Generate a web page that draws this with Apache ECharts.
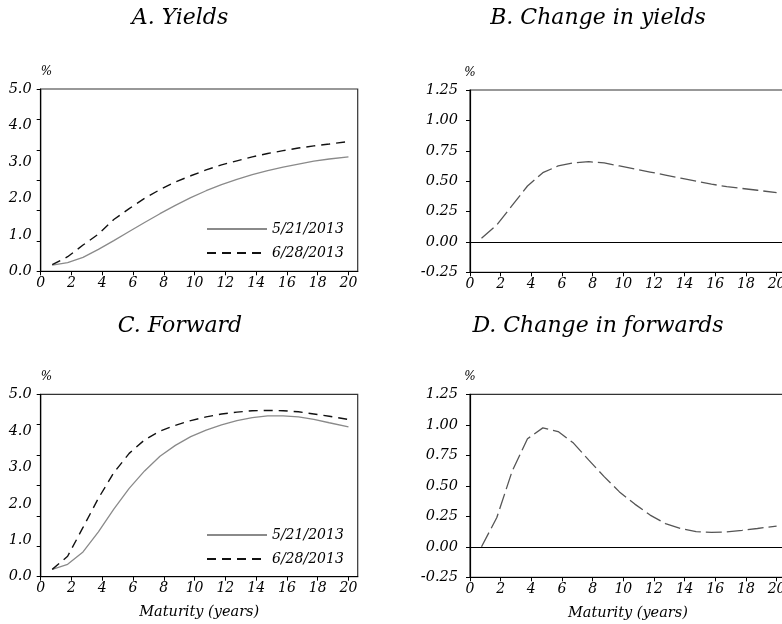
<!DOCTYPE html>
<html>
<head>
<meta charset="utf-8">
<script src="https://cdn.jsdelivr.net/npm/echarts@6/dist/echarts.min.js"></script>
<style>
  html, body { margin: 0; padding: 0; background: #fff; }
  #chart { width: 782px; height: 624px; }
</style>
</head>
<body>
<div id="chart"></div>
<script>
// Maturities (years) at which each curve is sampled
const maturities = [0.75, 1.75, 2.75, 3.75, 4.75, 5.75, 6.75, 7.75, 8.75, 9.75,
                    10.75, 11.75, 12.75, 13.75, 14.75, 15.75, 16.75, 17.75, 18.75, 20];

// A. Zero-coupon yields (%)
const yields0521 = [0.17, 0.24, 0.38, 0.60, 0.84, 1.09, 1.34, 1.58, 1.81, 2.02,
                    2.21, 2.38, 2.52, 2.65, 2.76, 2.86, 2.94, 3.02, 3.08, 3.14];
const yields0628 = [0.18, 0.40, 0.72, 1.02, 1.42, 1.72, 2.00, 2.24, 2.45, 2.62,
                    2.78, 2.92, 3.03, 3.14, 3.23, 3.31, 3.38, 3.44, 3.49, 3.56];

// B. Change in yields (percentage points)
const yieldChange = [0.03, 0.14, 0.30, 0.46, 0.57, 0.625, 0.65, 0.66, 0.65, 0.625,
                     0.60, 0.575, 0.55, 0.525, 0.50, 0.475, 0.455, 0.44, 0.425, 0.405];

// C. Instantaneous forward rates (%)
const fwd0521 = [0.20, 0.34, 0.68, 1.23, 1.85, 2.42, 2.90, 3.30, 3.60, 3.84,
                 4.02, 4.16, 4.28, 4.36, 4.41, 4.41, 4.38, 4.31, 4.22, 4.11];
const fwd0628 = [0.20, 0.56, 1.35, 2.15, 2.85, 3.38, 3.75, 3.99, 4.15, 4.28,
                 4.38, 4.46, 4.51, 4.55, 4.56, 4.55, 4.52, 4.46, 4.40, 4.31];

// D. Change in forwards (percentage points)
const fwdChange = [0.00, 0.24, 0.62, 0.885, 0.975, 0.945, 0.85, 0.71, 0.575, 0.45,
                   0.35, 0.26, 0.19, 0.15, 0.125, 0.118, 0.122, 0.135, 0.15, 0.17];

// Axis ticks and labels
const xTickValues = [0, 2, 4, 6, 8, 10, 12, 14, 16, 18, 20];
const levelTickValues = [0, 0.8333, 1.6667, 2.5, 3.3333, 4.1667, 5];
const levelLabelValues = [0, 1, 2, 3, 4, 5];
const dateLabels = ['5/21/2013', '6/28/2013'];
const panelTitles = ['A. Yields', 'B. Change in yields', 'C. Forward', 'D. Change in forwards'];
const xAxisTitle = 'Maturity (years)';

const FONT = "'DejaVu Serif', 'Liberation Serif', serif";
const pairs = (vals) => maturities.map((m, i) => [m, vals[i]]);

const textBase = { fontFamily: FONT, fontStyle: 'italic', color: '#000' };

const grids = [
  { left: 40.7, top: 89,    width: 317,   height: 182.3 },
  { left: 470,  top: 90,    width: 315.8, height: 182.3 },
  { left: 40.7, top: 394.3, width: 317,   height: 182.4 },
  { left: 470,  top: 394.3, width: 315.8, height: 183 }
].map(g => Object.assign({
  show: true, borderColor: '#333', borderWidth: 1.2, backgroundColor: 'transparent',
  containLabel: false, outerBoundsMode: 'none'
}, g));

function xAxisFor(gridIndex, withName) {
  return {
    type: 'value', gridIndex, min: 0, max: 20.6,
    axisLine: { show: true, onZero: false, lineStyle: { color: '#000', width: 1.2 } },
    axisTick: { show: true, length: 4, customValues: xTickValues, lineStyle: { color: '#000', width: 1 } },
    axisLabel: Object.assign({ customValues: xTickValues, margin: 5, fontSize: 14 }, textBase),
    splitLine: { show: false },
    name: withName ? xAxisTitle : '',
    nameLocation: 'middle', nameGap: 28,
    nameTextStyle: Object.assign({ fontSize: 14.5 }, textBase)
  };
}

function levelYAxis(gridIndex) {
  return {
    type: 'value', gridIndex, min: 0, max: 5,
    axisLine: { show: true, lineStyle: { color: '#000', width: 1.2 } },
    axisTick: { show: true, length: 4, customValues: levelTickValues, lineStyle: { color: '#000', width: 1 } },
    axisLabel: Object.assign({ customValues: levelLabelValues, margin: 9, fontSize: 14.5,
                               formatter: v => v.toFixed(1) }, textBase),
    splitLine: { show: false },
    name: '%', nameLocation: 'end', nameGap: 11,
    nameTextStyle: Object.assign({ fontSize: 12, align: 'left' }, textBase)
  };
}

function changeYAxis(gridIndex) {
  return {
    type: 'value', gridIndex, min: -0.25, max: 1.25, interval: 0.25,
    axisLine: { show: true, lineStyle: { color: '#000', width: 1.2 } },
    axisTick: { show: true, length: 4, lineStyle: { color: '#000', width: 1 } },
    axisLabel: Object.assign({ margin: 12, fontSize: 14.5, formatter: v => v.toFixed(2) }, textBase),
    splitLine: { show: false },
    name: '%', nameLocation: 'end', nameGap: 11,
    nameTextStyle: Object.assign({ fontSize: 12, align: 'center' }, textBase)
  };
}

const solidStyle = { color: '#8a8a8a', width: 1.3, type: 'solid' };
const dashedStyle = { color: '#111', width: 1.4, type: [9, 6] };
const changeStyle = { color: '#555', width: 1.3, type: [16, 5] };

function lineSeries(name, idx, vals, style, zeroLine) {
  const s = {
    name, type: 'line', xAxisIndex: idx, yAxisIndex: idx,
    data: pairs(vals), symbol: 'none', smooth: false,
    lineStyle: style, itemStyle: { color: style.color }, z: 3
  };
  if (zeroLine) {
    s.markLine = {
      silent: true, symbol: ['none', 'none'], label: { show: false },
      lineStyle: { color: '#000', width: 1.2, type: 'solid' },
      data: [{ yAxis: 0 }]
    };
  }
  return s;
}

function legendFor(top) {
  return {
    data: dateLabels, orient: 'vertical', left: 206, top, padding: 0,
    itemWidth: 60, itemHeight: 14, itemGap: 10,
    icon: 'inherit',
    itemStyle: { opacity: 0 },
    textStyle: Object.assign({ fontSize: 14 }, textBase),
    selectedMode: false
  };
}

const titleCenters = [[180, 7], [598, 7], [180, 315], [598, 315]];

const option = {
  animation: false,
  backgroundColor: '#fff',
  title: panelTitles.map((t, i) => ({
    text: t, left: titleCenters[i][0], top: titleCenters[i][1], textAlign: 'center', padding: 0,
    textStyle: { fontFamily: FONT, fontStyle: 'italic', fontWeight: 'normal', fontSize: 22, color: '#000' }
  })),
  legend: [legendFor(222), legendFor(528)],
  grid: grids,
  xAxis: [xAxisFor(0, false), xAxisFor(1, false), xAxisFor(2, true), xAxisFor(3, true)],
  yAxis: [levelYAxis(0), changeYAxis(1), levelYAxis(2), changeYAxis(3)],
  series: [
    lineSeries(dateLabels[0], 0, yields0521, solidStyle, false),
    lineSeries(dateLabels[1], 0, yields0628, dashedStyle, false),
    lineSeries('Change in yields', 1, yieldChange, changeStyle, true),
    lineSeries(dateLabels[0], 2, fwd0521, solidStyle, false),
    lineSeries(dateLabels[1], 2, fwd0628, dashedStyle, false),
    lineSeries('Change in forwards', 3, fwdChange, changeStyle, true)
  ]
};

const chart = echarts.init(document.getElementById('chart'), null, { renderer: 'canvas' });
chart.setOption(option);
</script>
</body>
</html>
